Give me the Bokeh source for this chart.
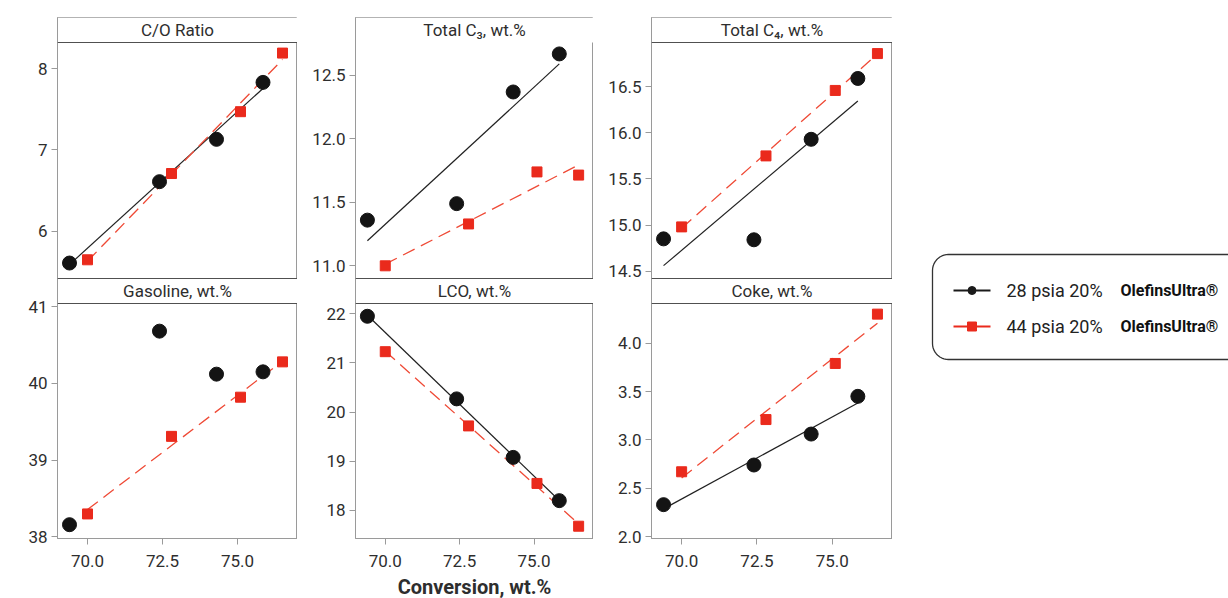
import numpy as np
from bokeh.plotting import figure
from bokeh.layouts import row
from bokeh.models import Range1d, FixedTicker, NumeralTickFormatter, Span
from bokeh.core.properties import value
from bokeh.embed import file_html
from bokeh.resources import INLINE

# ---------------- data ----------------
conv_28 = [69.4, 72.4, 74.3, 75.85]
conv_44 = [70.0, 72.8, 75.1, 76.5]

co_28 = [5.61, 6.61, 7.13, 7.83]
co_44 = [5.65, 6.71, 7.47, 8.19]
c3_28 = [11.36, 11.49, 12.37, 12.67]
c3_44 = [11.00, 11.33, 11.74, 11.715]
c4_28 = [14.85, 14.84, 15.93, 16.59]
c4_44 = [14.98, 15.75, 16.46, 16.86]
gas_28 = [38.16, 40.68, 40.12, 40.15]
gas_44 = [38.30, 39.31, 39.82, 40.28]
lco_28 = [21.95, 20.27, 19.08, 18.20]
lco_44 = [21.23, 19.72, 18.55, 17.68]
coke_28 = [2.33, 2.74, 3.06, 3.45]
coke_44 = [2.67, 3.21, 3.79, 4.30]

panel_titles = ["C/O Ratio", "Total C\u2083, wt.%", "Total C\u2084, wt.%",
                "Gasoline, wt.%", "LCO, wt.%", "Coke, wt.%"]
x_ticks = [70.0, 72.5, 75.0]
y_ticks = [[6, 7, 8], [11.0, 11.5, 12.0, 12.5], [14.5, 15.0, 15.5, 16.0, 16.5],
           [38, 39, 40, 41], [18, 19, 20, 21, 22], [2.0, 2.5, 3.0, 3.5, 4.0]]
y_fmt = ["{:.0f}", "{:.1f}", "{:.1f}", "{:.0f}", "{:.0f}", "{:.1f}"]
y_limits = [(5.42, 8.32), (10.90, 12.76), (14.42, 16.98),
            (37.98, 41.04), (17.43, 22.21), (1.98, 4.41)]
x_label = "Conversion, wt.%"
series_labels = ["28 psia 20%", "44 psia 20%"]
brand = "OlefinsUltra\u00ae"

series = [(co_28, co_44), (c3_28, c3_44), (c4_28, c4_44),
          (gas_28, gas_44), (lco_28, lco_44), (coke_28, coke_44)]
fit28 = [True, True, True, False, True, True]

FONT = "Roboto"
BLACK = "#141414"
RED = "#ea2a1c"
REDLINE = "#ef4a36"
FRAME = "#9a9a9a"
STRIP = "#505050"
TXT = "#2e2e2e"

# pixel layout of one column (from the frame bottom)
H = 521          # whole frame
D2 = 235         # lower data area
S = 25           # strip height
D1 = 236         # upper data area
UP0 = D2 + S     # bottom of upper data area
left_borders = [57, 58, 58]
frame_widths = [240, 238, 241]


def make_column(col):
    it, ib = col, col + 3
    lo1, hi1 = y_limits[it]
    lo2, hi2 = y_limits[ib]
    s1 = (hi1 - lo1) / D1
    s2 = (hi2 - lo2) / D2
    top_start = lo1 - UP0 * s1
    top_end = top_start + H * s1
    bot_end = lo2 + H * s2

    p = figure(frame_width=frame_widths[col], frame_height=H,
               x_range=Range1d(69, 77), y_range=Range1d(lo2, bot_end),
               output_backend="svg", toolbar_location=None,
               min_border=0, min_border_left=left_borders[col],
               min_border_right=0, min_border_top=17, min_border_bottom=60)
    p.extra_y_ranges = {"top": Range1d(top_start, top_end)}
    p.grid.visible = False
    p.outline_line_color = FRAME
    p.background_fill_color = "white"
    p.border_fill_color = "white"

    # y ticks: lower panel directly, upper panel mapped into lower range
    ticks, overrides = [], {}
    for t in y_ticks[ib]:
        v = float(t)
        ticks.append(v)
        overrides[v] = y_fmt[ib].format(t)
    for t in y_ticks[it]:
        v = float(lo2 + (UP0 + (t - lo1) / s1) * s2)
        ticks.append(v)
        overrides[v] = y_fmt[it].format(t)
    yax = p.yaxis[0]
    yax.ticker = FixedTicker(ticks=ticks)
    yax.major_label_overrides = overrides

    xax = p.xaxis[0]
    xax.ticker = FixedTicker(ticks=x_ticks)
    xax.formatter = NumeralTickFormatter(format="0.0")
    for ax in p.axis:
        ax.axis_line_color = FRAME
        ax.major_tick_line_color = FRAME
        ax.major_tick_out = 6
        ax.major_tick_in = 0
        ax.minor_tick_line_color = None
        ax.major_label_text_font = FONT
        ax.major_label_text_font_size = "17px"
        ax.major_label_text_color = TXT
    yax.major_label_standoff = 4
    xax.major_label_standoff = 10
    if col == 1:
        xax.axis_label = x_label
        xax.axis_label_text_font = FONT
        xax.axis_label_text_font_style = "bold"
        xax.axis_label_text_font_size = "20px"
        xax.axis_label_text_color = TXT
        xax.axis_label_standoff = 5

    # strips
    st2_top = hi2 + S * s2
    p.quad(left=[69], right=[77], bottom=[hi1], top=[top_end],
           fill_color="white", line_color=None, y_range_name="top")
    p.quad(left=[69], right=[77], bottom=[hi2], top=[st2_top],
           fill_color="white", line_color=None)
    if col != 1:
        p.add_layout(Span(location=hi1, dimension="width", y_range_name="top",
                          line_color=STRIP, line_width=1))
    p.add_layout(Span(location=st2_top, dimension="width",
                      line_color=STRIP, line_width=1))
    p.add_layout(Span(location=hi2, dimension="width",
                      line_color=STRIP, line_width=1))
    p.text(x=[73], y=[(hi1 + top_end) / 2], text=[panel_titles[it]],
           y_range_name="top", text_align="center", text_baseline="middle",
           text_font=value(FONT), text_font_size=value("17px"), text_color=TXT)
    p.text(x=[73], y=[(hi2 + st2_top) / 2], text=[panel_titles[ib]],
           text_align="center", text_baseline="middle",
           text_font=value(FONT), text_font_size=value("17px"), text_color=TXT)

    for idx, rname in ((it, "top"), (ib, "default")):
        y28, y44 = series[idx]
        if fit28[idx]:
            k, b = np.polyfit(conv_28, y28, 1)
            xs = [min(conv_28), max(conv_28)]
            p.line(xs, [k * x + b for x in xs], line_color="#202020",
                   line_width=1.2, y_range_name=rname)
        k, b = np.polyfit(conv_44, y44, 1)
        xs = [min(conv_44), max(conv_44)]
        p.line(xs, [k * x + b for x in xs], line_color=REDLINE, line_width=1.3,
               line_dash="13 7", y_range_name=rname)
        p.scatter(conv_28, y28, marker="circle", size=14, fill_color=BLACK,
                  line_color=BLACK, y_range_name=rname)
        p.scatter(conv_44, y44, marker="square", size=10, fill_color=RED,
                  line_color=RED, y_range_name=rname)
    return p


columns = [make_column(c) for c in range(3)]

# ---------------- legend ----------------
LW, LH = 336, 598
lg = figure(frame_width=LW, frame_height=LH, x_range=Range1d(0, LW),
            y_range=Range1d(0, LH), output_backend="svg", toolbar_location=None,
            x_axis_location=None, y_axis_location=None, min_border=0)
lg.grid.visible = False
lg.outline_line_color = None

left, right, btop, bbot, r = 40, 420, 361, 256, 16
a1 = np.linspace(np.pi / 2, np.pi, 12)
a2 = np.linspace(np.pi, 1.5 * np.pi, 12)
px = [right] + list(left + r + r * np.cos(a1)) + list(left + r + r * np.cos(a2)) + [right]
py = [btop] + list(btop - r + r * np.sin(a1)) + list(bbot + r + r * np.sin(a2)) + [bbot]
lg.line(px, py, line_color="#333333", line_width=1.3)

rows_y = [325, 289]
colors = ["#1a1a1a", RED]
markers = ["circle", "square"]
msizes = [8, 9]
for j in range(2):
    yy = rows_y[j]
    lg.segment(x0=[61], x1=[98], y0=[yy], y1=[yy], line_color=colors[j], line_width=2.2)
    lg.scatter([79.5], [yy], marker=markers[j], size=msizes[j],
               fill_color=colors[j], line_color=colors[j])
    lg.text(x=[114], y=[yy], text=[series_labels[j]], text_baseline="middle",
            text_font=value(FONT), text_font_size=value("18px"), text_color="#222222")
    lg.text(x=[228], y=[yy], text=[brand], text_baseline="middle",
            text_font=value(FONT), text_font_size=value("16px"),
            text_font_style="bold", text_color="#111111")

layout = row(*columns, lg)

open("out.html", "w").write(file_html(layout, INLINE))
